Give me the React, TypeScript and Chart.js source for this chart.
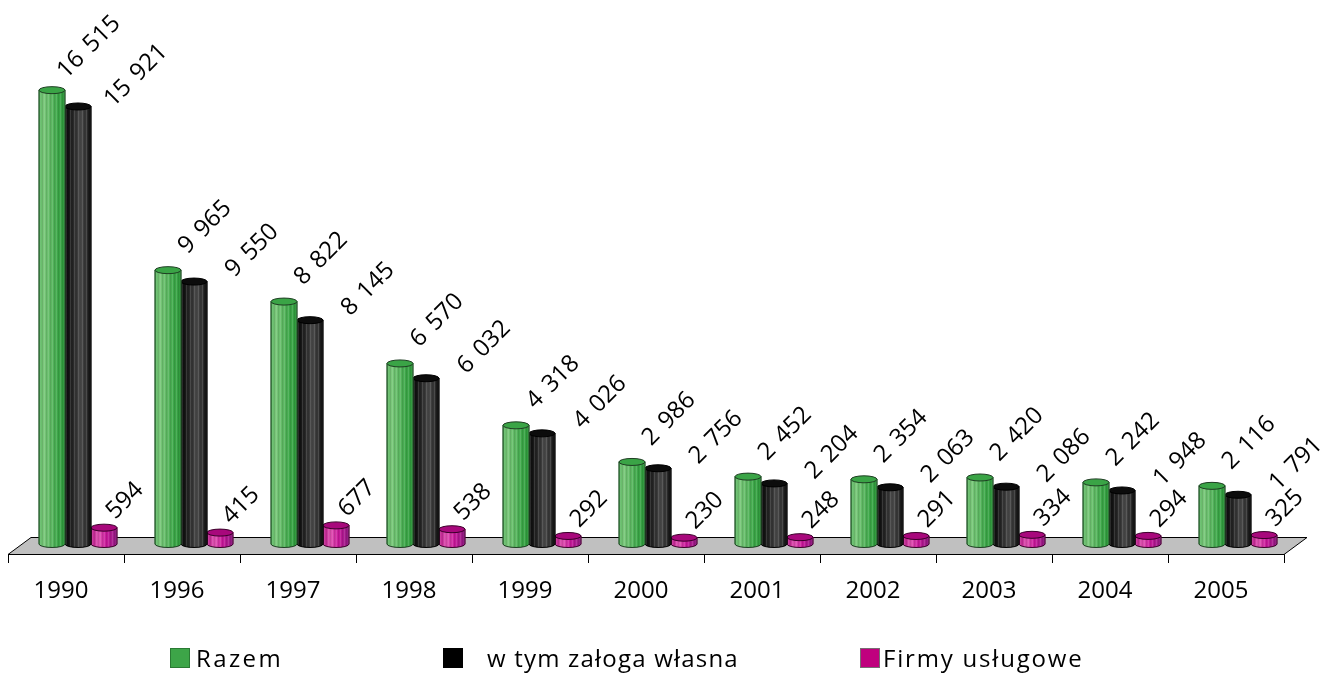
import React, { useEffect, useRef } from "react";
import { Chart, registerables } from "chart.js";

Chart.register(...registerables);

const years = ["1990", "1996", "1997", "1998", "1999", "2000", "2001", "2002", "2003", "2004", "2005"];
const razem = [16515, 9965, 8822, 6570, 4318, 2986, 2452, 2354, 2420, 2242, 2116];
const zalogaWlasna = [15921, 9550, 8145, 6032, 4026, 2756, 2204, 2063, 2086, 1948, 1791];
const firmyUslugowe = [594, 415, 677, 538, 292, 230, 248, 291, 334, 294, 325];
const seriesNames = ["Razem", "w tym załoga własna", "Firmy usługowe"];

const FONT = "'Open Sans', 'Noto Sans', sans-serif";
const DEPTH_X = 12;
const FLOOR_DX = 23;
const FLOOR_DY = 17;
const ELL_RY = 3.5;

type CylStyle = { body: string; stops: [number, string][]; top: string; edge: string; labelDx: number; labelDy: number };

const styles: CylStyle[] = [
  {
    body: "#3da548",
    stops: [[0, "#49ad52"], [0.15, "#7cc97c"], [0.45, "#5fb964"], [0.7, "#3ea84a"], [1, "#2f9a3c"]],
    top: "#3aa446",
    edge: "#1e3d22",
    labelDx: 37,
    labelDy: -43,
  },
  {
    body: "#141414",
    stops: [[0, "#050505"], [0.3, "#262626"], [0.6, "#4a4a4a"], [0.85, "#2e2e2e"], [1, "#050505"]],
    top: "#0c0c0c",
    edge: "#000000",
    labelDx: 58,
    labelDy: -31,
  },
  {
    body: "#c2178c",
    stops: [[0, "#b81888"], [0.3, "#e052b2"], [0.6, "#c8189a"], [1, "#8e1c82"]],
    top: "#a8087c",
    edge: "#3a0029",
    labelDx: 21,
    labelDy: -27,
  },
];

function fmt(v: number): string {
  if (v < 1000) return String(v);
  const th = Math.floor(v / 1000);
  const rest = String(v % 1000).padStart(3, "0");
  return th + " " + rest;
}

function drawCylinder(ctx: CanvasRenderingContext2D, x: number, y: number, base: number, w: number, st: CylStyle) {
  const rx = w / 2;
  const l = x - rx;
  const r = x + rx;
  ctx.save();
  ctx.beginPath();
  ctx.moveTo(l, y);
  ctx.lineTo(l, base);
  ctx.ellipse(x, base, rx, ELL_RY, 0, Math.PI, 0, true);
  ctx.lineTo(r, y);
  ctx.closePath();
  const g = ctx.createLinearGradient(l, 0, r, 0);
  st.stops.forEach(([p, c]) => g.addColorStop(p, c));
  ctx.fillStyle = g;
  ctx.fill();
  ctx.save();
  ctx.clip();
  let k = 0;
  for (let sx = l + 1; sx < r; sx += 2) {
    ctx.fillStyle = k % 2 === 0 ? "rgba(255,255,255,0.13)" : "rgba(0,0,0,0.10)";
    ctx.fillRect(sx, y, 1, base - y + ELL_RY + 1);
    k++;
  }
  ctx.restore();
  ctx.strokeStyle = st.edge;
  ctx.lineWidth = 1;
  ctx.stroke();
  ctx.beginPath();
  ctx.ellipse(x, y, rx, ELL_RY, 0, 0, Math.PI * 2);
  ctx.fillStyle = st.top;
  ctx.fill();
  ctx.stroke();
  ctx.restore();
}

const cylinderPlugin = {
  id: "cylinder3d",
  beforeDatasetsDraw(chart: any) {
    const { ctx, chartArea: a } = chart;
    ctx.save();
    ctx.beginPath();
    ctx.moveTo(a.left, a.bottom + 0.5);
    ctx.lineTo(a.right, a.bottom + 0.5);
    ctx.lineTo(a.right + FLOOR_DX, a.bottom + 0.5 - FLOOR_DY);
    ctx.lineTo(a.left + FLOOR_DX, a.bottom + 0.5 - FLOOR_DY);
    ctx.closePath();
    ctx.fillStyle = "#c0c0c0";
    ctx.fill();
    ctx.strokeStyle = "#000";
    ctx.lineWidth = 1;
    ctx.stroke();
    ctx.restore();
    ctx.save();
    ctx.translate(DEPTH_X, 0);
  },
  afterDatasetDraw(chart: any, args: any) {
    const st = styles[args.index];
    const ctx = chart.ctx;
    args.meta.data.forEach((el: any) => {
      const p = el.getProps(["x", "y", "base", "width"], true);
      drawCylinder(ctx, p.x, p.y, p.base, p.width, st);
    });
  },
  afterDatasetsDraw(chart: any) {
    const ctx = chart.ctx;
    chart.data.datasets.forEach((ds: any, i: number) => {
      const meta = chart.getDatasetMeta(i);
      const st = styles[i];
      meta.data.forEach((el: any, j: number) => {
        const p = el.getProps(["x", "y"], true);
        ctx.save();
        ctx.translate(p.x + st.labelDx, p.y + st.labelDy);
        ctx.rotate(-Math.PI / 4);
        ctx.font = "24px " + FONT;
        (ctx as any).wordSpacing = "3px";
        ctx.fillStyle = "#000";
        ctx.textAlign = "center";
        ctx.textBaseline = "middle";
        ctx.fillText(fmt(ds.data[j]), 0, 0);
        ctx.restore();
      });
    });
    ctx.restore();
  },
};

export default function App() {
  const ref = useRef<HTMLCanvasElement | null>(null);

  useEffect(() => {
    if (!ref.current) return;
    const chart = new Chart(ref.current, {
      type: "bar",
      data: {
        labels: years,
        datasets: [
          { label: seriesNames[0], data: razem, backgroundColor: styles[0].body, borderWidth: 0, barThickness: 26 },
          { label: seriesNames[1], data: zalogaWlasna, backgroundColor: styles[1].body, borderWidth: 0, barThickness: 26 },
          { label: seriesNames[2], data: firmyUslugowe, backgroundColor: styles[2].body, borderWidth: 0, barThickness: 26 },
        ],
      },
      options: {
        animation: false,
        responsive: false,
        maintainAspectRatio: false,
        devicePixelRatio: 1,
        layout: { padding: { left: 8, right: 39, top: 20, bottom: 0 } },
        plugins: { legend: { display: false }, tooltip: { enabled: false } },
        scales: {
          x: {
            offset: true,
            grid: { display: true, drawOnChartArea: false, drawTicks: true, tickLength: 9, color: "#000", offset: true },
            border: { display: true, color: "#000", width: 1 },
            ticks: { color: "#000", font: { size: 24, family: FONT }, padding: 14, labelOffset: -5, maxRotation: 0, autoSkip: false },
            afterFit: (s: any) => {
              s.height = 122;
            },
          },
          y: { display: false, min: -364, max: 19068 },
        },
      },
      plugins: [cylinderPlugin],
    });
    return () => chart.destroy();
  }, []);

  const legendItems = [
    { sq: 170, tx: 196, color: "#3da548", border: "#2a7a33", ls: "2.4px" },
    { sq: 443, tx: 487, color: "#000000", border: "#000000", ls: "1.2px" },
    { sq: 860, tx: 883, color: "#c0007e", border: "#7a6a74", ls: "1.8px" },
  ];

  return (
    <div style={{ position: "absolute", left: 0, top: 0, width: 1323, height: 676, background: "#fff", fontFamily: FONT }}>
      <canvas ref={ref} width={1323} height={676} style={{ position: "absolute", left: 0, top: 0, width: 1323, height: 676 }} />
      {legendItems.map((it, i) => (
        <React.Fragment key={i}>
          <div
            style={{
              position: "absolute",
              left: it.sq,
              top: 648,
              width: 18,
              height: 18,
              background: it.color,
              border: "1px solid " + it.border,
            }}
          />
          <div
            style={{
              position: "absolute",
              left: it.tx,
              top: 644,
              height: 28,
              lineHeight: "28px",
              fontSize: 24,
              color: "#000",
              whiteSpace: "nowrap",
              letterSpacing: it.ls,
            }}
          >
            {seriesNames[i]}
          </div>
        </React.Fragment>
      ))}
    </div>
  );
}
